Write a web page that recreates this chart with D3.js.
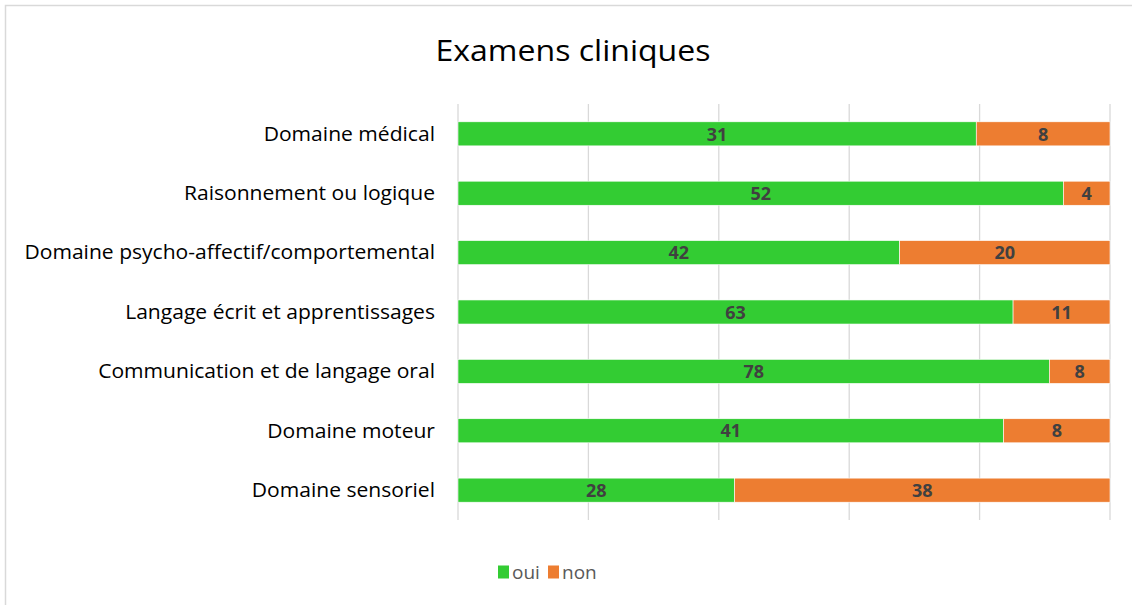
<!DOCTYPE html>
<html>
<head>
<meta charset="utf-8">
<script src="https://cdn.jsdelivr.net/npm/d3@7"></script>
<style>
  body { margin: 0; background: #fff; }
  svg { display: block; font-family: "Open Sans", "Noto Sans", sans-serif; }
</style>
</head>
<body>
<svg id="chart" width="1132" height="605"></svg>
<script>
const categories = [
    "Domaine médical",
    "Raisonnement ou logique",
    "Domaine psycho-affectif/comportemental",
    "Langage écrit et apprentissages",
    "Communication et de langage oral",
    "Domaine moteur",
    "Domaine sensoriel"
]
const oui = [31, 52, 42, 63, 78, 41, 28]
const non = [8, 4, 20, 11, 8, 8, 38]
const seriesNames = ["oui", "non"]
const seriesColors = ["#33cc33", "#ed7d31"]
const gridTicks = [0, 0.2, 0.4, 0.6, 0.8, 1]

const svg = d3.select("#chart")
const margin = {left: 458, right: 22, top: 104, bottom: 85}
const width = 1132, height = 605

// chart frame
svg.append("path")
    .attr("d", "M5.5,605 V5.5 H1132")
    .attr("fill", "none")
    .attr("stroke", "#d9d9d9")
    .attr("stroke-width", 1.5)

svg.append("text")
    .attr("x", 573)
    .attr("y", 61)
    .attr("text-anchor", "middle")
    .style("font-size", "30px")
    .attr("fill", "#000")
    .attr("textLength", 275)
    .attr("lengthAdjust", "spacingAndGlyphs")
    .text("Examens cliniques")

const rows = categories.map((c, i) => ({cat: c, oui: oui[i], non: non[i], total: oui[i] + non[i]}))

const x = d3.scaleLinear().domain([0, 1]).range([margin.left, width - margin.right])
const y = d3.scaleBand().domain(categories).range([margin.top, height - margin.bottom]).paddingInner(0.595).paddingOuter(0.3)

// gridlines
svg.append("g")
    .selectAll("line")
    .data(gridTicks)
    .enter()
    .append("line")
    .attr("x1", d => x(d)).attr("x2", d => x(d))
    .attr("y1", margin.top).attr("y2", height - margin.bottom + 0)
    .attr("stroke", "#d9d9d9")
    .attr("stroke-width", 1.3)

// category labels (stretched a bit to mimic the narrow office font)
svg.append("g")
    .selectAll("text")
    .data(categories)
    .enter()
    .append("text")
    .attr("x", margin.left - 23)
    .attr("y", d => y(d) + y.bandwidth() / 2)
    .attr("dy", "0.35em")
    .attr("text-anchor", "end")
    .style("font-size", "19.5px")
    .attr("fill", "#000")
    .text(d => d)
    .each(function () {
        const w = this.getComputedTextLength()
        d3.select(this).attr("textLength", w * 1.08).attr("lengthAdjust", "spacingAndGlyphs")
    })

const stack = d3.stack().keys(seriesNames)
    .value((d, k) => d[k] / d.total)
const stacked = stack(rows)

const layers = svg.append("g")
    .selectAll("g")
    .data(stacked)
    .enter()
    .append("g")
    .attr("fill", (d, i) => seriesColors[i])

layers.selectAll("rect")
    .data(d => d)
    .enter()
    .append("rect")
    .attr("x", d => x(d[0]))
    .attr("width", d => x(d[1]) - x(d[0]))
    .attr("y", d => y(d.data.cat))
    .attr("height", y.bandwidth())
    .attr("stroke", "#fff")
    .attr("stroke-width", 0.6)

layers.each(function (layer) {
    d3.select(this).selectAll("text")
        .data(layer)
        .enter()
        .append("text")
        .attr("x", d => (x(d[0]) + x(d[1])) / 2)
        .attr("y", d => y(d.data.cat) + y.bandwidth() / 2)
        .attr("dy", "0.37em")
        .attr("text-anchor", "middle")
        .style("font-size", "18px")
        .style("font-weight", "bold")
        .attr("fill", "#404040")
        .text(d => d.data[layer.key])
})

// legend
const legend = svg.append("g").attr("transform", "translate(498, 572)")
const legendItems = legend.selectAll("g")
    .data(seriesNames)
    .enter()
    .append("g")
    .attr("transform", (d, i) => `translate(${i * 50},0)`)
legendItems.append("rect")
    .attr("x", 0).attr("y", -6.5)
    .attr("width", 11).attr("height", 13)
    .attr("fill", (d, i) => seriesColors[i])
legendItems.append("text")
    .attr("x", 14)
    .attr("dy", "0.35em")
    .style("font-size", "19px")
    .attr("fill", "#595959")
    .text(d => d)
</script>
</body>
</html>
